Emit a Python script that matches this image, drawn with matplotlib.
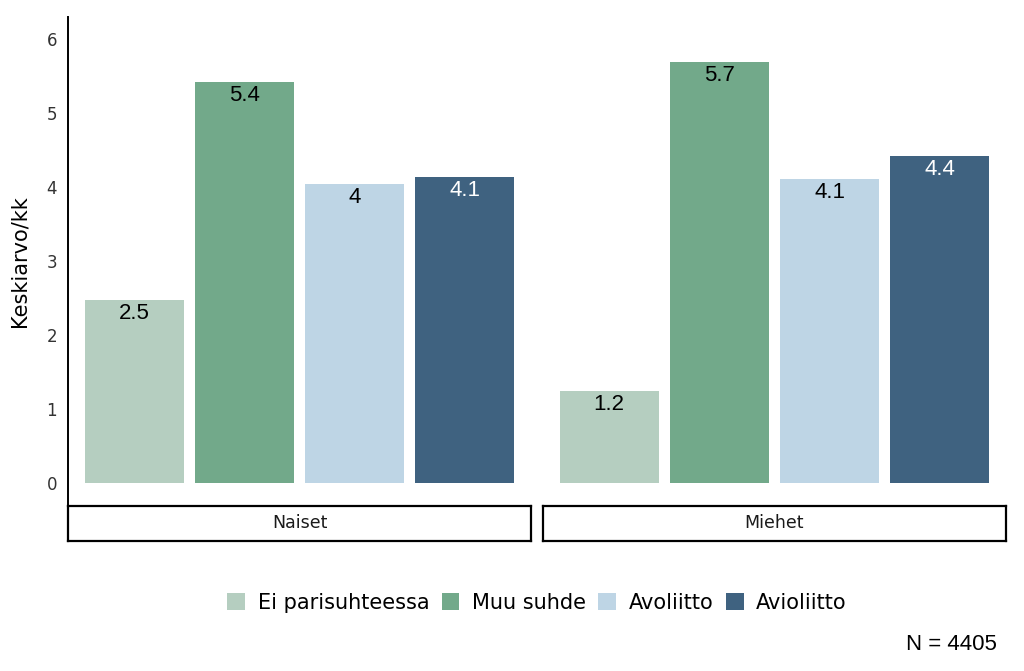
import matplotlib
matplotlib.use("Agg")
import matplotlib.pyplot as plt
from matplotlib.patches import Patch

# data
groups = ["Naiset", "Miehet"]
categories = ["Ei parisuhteessa", "Muu suhde", "Avoliitto", "Avioliitto"]
values = {
    "Naiset": [2.47, 5.42, 4.04, 4.13],
    "Miehet": [1.24, 5.69, 4.11, 4.42],
}
labels = {
    "Naiset": ["2.5", "5.4", "4", "4.1"],
    "Miehet": ["1.2", "5.7", "4.1", "4.4"],
}
colors = ["#b5cec0", "#72a98a", "#bed5e5", "#3f6280"]
label_colors = ["black", "black", "black", "white"]

plt.rcParams['font.family'] = ['DejaVu Sans']

fig = plt.figure(figsize=(10.24, 6.71), dpi=100)

panel_left = [68 / 1024, 543 / 1024]
panel_w = 463 / 1024
panel_bottom = (671 - 505) / 671
panel_h = 488 / 671
strip_bottom = (671 - 541) / 671
strip_h = 35 / 671

x = list(range(len(categories)))
for i, g in enumerate(groups):
    ax = fig.add_axes([panel_left[i], panel_bottom, panel_w, panel_h])
    bars = ax.bar(x, values[g], width=0.9, color=colors)
    for b, lab, lc in zip(bars, labels[g], label_colors):
        ax.annotate(lab, (b.get_x() + b.get_width() / 2, b.get_height()),
                    xytext=(0, -2), textcoords="offset points",
                    ha="center", va="top", fontsize=16, color=lc,
                    family="Liberation Sans")
    ax.set_xlim(-0.6, 3.6)
    ax.set_ylim(-0.3, 6.3)
    ax.set_xticks([])
    for s in ["top", "right", "bottom"]:
        ax.spines[s].set_visible(False)
    if i == 0:
        ax.spines["left"].set_linewidth(1.4)
        ax.set_yticks(range(7))
        ax.tick_params(axis="y", length=0, pad=8, labelsize=12, colors="#333333")
        ax.set_ylabel("Keskiarvo/kk", fontsize=15)
        ax.yaxis.set_label_coords(-38 / 463, 0.5)
    else:
        ax.spines["left"].set_visible(False)
        ax.set_yticks([])

    # strip below the panel
    sax = fig.add_axes([panel_left[i], strip_bottom, panel_w, strip_h])
    sax.set_xticks([])
    sax.set_yticks([])
    for s in sax.spines.values():
        s.set_linewidth(1.6)
    sax.text(0.5, 0.5, g, ha="center", va="center", fontsize=12.5,
             color="#1a1a1a", transform=sax.transAxes)

handles = [Patch(facecolor=c, label=l) for c, l in zip(colors, categories)]
fig.legend(handles=handles, loc="center", bbox_to_anchor=(537 / 1024, (671 - 603) / 671),
           ncol=4, frameon=False, fontsize=15, handlelength=0.85, handleheight=0.85,
           handletextpad=0.6, columnspacing=0.6, borderpad=0)

fig.text(997 / 1024, (671 - 644) / 671, "N = 4405", ha="right", va="center",
         fontsize=16, family="Liberation Sans")

fig.savefig("out.png", dpi=100)
